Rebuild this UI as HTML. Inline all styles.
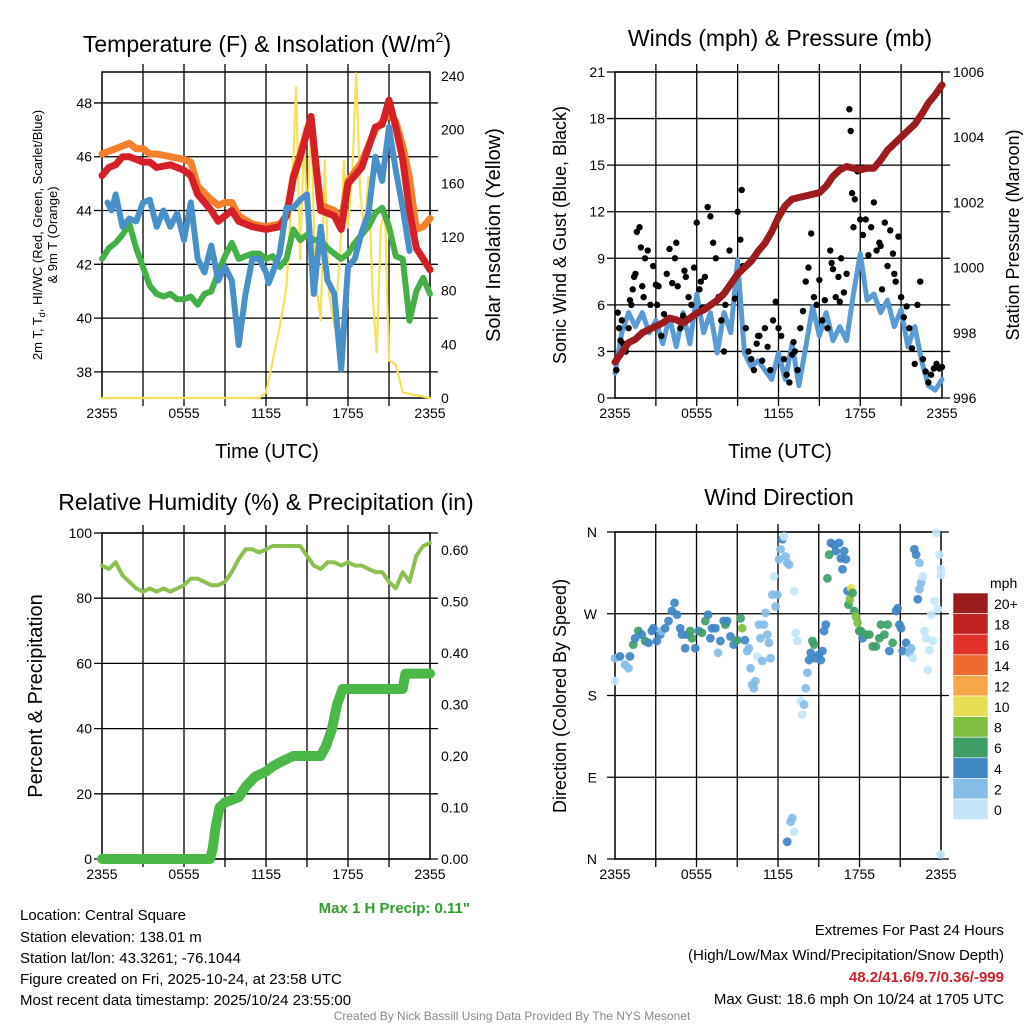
<!DOCTYPE html>
<html><head><meta charset="utf-8">
<style>
html,body{margin:0;padding:0;background:#fff;}
body{width:1024px;height:1024px;overflow:hidden;font-family:"Liberation Sans",sans-serif;}
svg text{font-family:"Liberation Sans",sans-serif;fill:#000;}
</style></head>
<body>
<svg id="c" width="1024" height="1024" viewBox="0 0 1024 1024" xmlns="http://www.w3.org/2000/svg">
<g id="static">
<text x="267" y="52" font-size="23" text-anchor="middle">Temperature (F) &amp; Insolation (W/m<tspan font-size="14" dy="-10">2</tspan><tspan dy="10">)</tspan></text>
<text x="780" y="46" font-size="23" text-anchor="middle">Winds (mph) &amp; Pressure (mb)</text>
<text x="266" y="510" font-size="23" text-anchor="middle">Relative Humidity (%) &amp; Precipitation (in)</text>
<text x="779" y="505" font-size="23" text-anchor="middle">Wind Direction</text>
<text x="267" y="458" font-size="20" text-anchor="middle">Time (UTC)</text>
<text x="780" y="458" font-size="20" text-anchor="middle">Time (UTC)</text>
<text transform="translate(42,235) rotate(-90)" font-size="13" text-anchor="middle">2m T, T<tspan font-size="9" dy="3">d</tspan><tspan dy="-3">, HI/WC (Red, Green, Scarlet/Blue)</tspan></text>
<text transform="translate(57,235) rotate(-90)" font-size="13" text-anchor="middle">&amp; 9m T (Orange)</text>
<text transform="translate(500,235) rotate(-90)" font-size="20" text-anchor="middle">Solar Insolation (Yellow)</text>
<text transform="translate(566,235) rotate(-90)" font-size="18" text-anchor="middle">Sonic Wind &amp; Gust (Blue, Black)</text>
<text transform="translate(1019,235) rotate(-90)" font-size="18" text-anchor="middle">Station Pressure (Maroon)</text>
<text transform="translate(42,696) rotate(-90)" font-size="20" text-anchor="middle">Percent &amp; Precipitation</text>
<text transform="translate(566,696) rotate(-90)" font-size="18" text-anchor="middle">Direction (Colored By Speed)</text>
<text x="470" y="913" font-size="15" font-weight="bold" style="fill:#2e9e2e" text-anchor="end">Max 1 H Precip: 0.11"</text>
<g font-size="15">
<text x="20" y="920">Location: Central Square</text>
<text x="20" y="942">Station elevation: 138.01 m</text>
<text x="20" y="963">Station lat/lon: 43.3261; -76.1044</text>
<text x="20" y="984">Figure created on Fri, 2025-10-24, at 23:58 UTC</text>
<text x="20" y="1005">Most recent data timestamp: 2025/10/24 23:55:00</text>
</g>
<g font-size="15" text-anchor="end">
<text x="1004" y="935">Extremes For Past 24 Hours</text>
<text x="1004" y="960">(High/Low/Max Wind/Precipitation/Snow Depth)</text>
<text x="1004" y="982" font-weight="bold" style="fill:#cc2229">48.2/41.6/9.7/0.36/-999</text>
<text x="1004" y="1004">Max Gust: 18.6 mph On 10/24 at 1705 UTC</text>
</g>
<text x="512" y="1020" font-size="12" text-anchor="middle" style="fill:#888">Created By Nick Bassill Using Data Provided By The NYS Mesonet</text>
</g>
</svg>
<script>
// ---------- DATA ----------
const xTickLabels = ["2355","0555","1155","1755","2355"];
const tempTicks = [38,40,42,44,46,48];
const solarTicks = [0,40,80,120,160,200,240];
const windTicks = [0,3,6,9,12,15,18,21];
const presTicks = [996,998,1000,1002,1004,1006];
const rhTicks = [0,20,40,60,80,100];
const precipTicks = [0.00,0.10,0.20,0.30,0.40,0.50,0.60];
const dirTicks = ["N","E","S","W","N"];
const dirTickDeg = [0,90,180,270,360];
const speedBins = ["0","2","4","6","8","10","12","14","16","18","20+"];

const halfHours = [0,0.5,1,1.5,2,2.5,3,3.5,4,4.5,5,5.5,6,6.5,7,7.5,8,8.5,9,9.5,10,10.5,11,11.5,12,12.5,13,13.5,14,14.5,15,15.5,16,16.5,17,17.5,18,18.5,19,19.5,20,20.5,21,21.5,22,22.5,23,23.5,24];

const redHours = [0,0.5,1,1.5,2,2.5,3,3.5,4,5,6,6.5,7,8,8.5,9,9.5,10,11,12,13,13.5,14,14.5,15,15.3,15.6,16,17,17.5,18,19,20,20.5,21,21.5,22,22.5,23,23.5,24];
const redTemp =  [45.3,45.6,45.7,46.0,46.0,45.9,45.8,45.8,45.6,45.7,45.5,45.3,44.6,44.0,43.6,43.8,44.0,43.6,43.4,43.3,43.4,43.8,45.2,46.0,46.9,47.5,45.9,44.0,43.8,43.3,45.0,45.6,47.1,47.2,48.1,47.1,45.9,44.0,42.6,42.2,41.8];
const orangeTemp=[46.1,46.2,46.3,46.4,46.5,46.3,46.3,46.1,46.1,46.0,45.9,45.8,44.9,44.4,44.2,44.3,44.3,43.8,43.5,43.4,43.5,43.8,45.3,46.1,47.0,47.4,46.0,44.2,44.0,43.6,45.1,45.8,47.0,47.3,47.6,47.3,46.4,45.2,43.3,43.4,43.7];

const blueHours = [0.4,0.7,1,1.5,2,2.5,3,3.5,4,4.5,5,5.5,6,6.5,7,7.5,8,8.5,9,9.5,10,10.5,11,11.5,12,12.2,13,13.5,14,14.5,15,15.5,16,16.5,17,17.5,18,18.5,19,19.5,20,20.5,21,21.5,22,22.5];
const blueTemp = [44.3,44.0,44.6,43.4,43.7,43.6,44.3,44.4,43.4,44.0,43.4,43.9,42.9,44.3,42.2,41.7,42.7,41.4,41.9,41.4,39.0,40.9,42.2,42.2,41.7,41.3,42.4,44.1,44.1,44.4,44.6,40.9,43.4,41.4,40.9,38.1,41.9,42.2,43.2,43.9,46.0,45.1,47.1,45.5,44.1,42.5];

const greenTemp = [42.2,42.6,42.8,43.1,43.5,42.6,41.9,41.2,40.9,40.8,40.9,40.7,40.7,40.8,40.5,40.9,41.0,41.7,42.3,42.8,42.2,42.3,42.4,42.4,42.2,42.3,41.9,42.2,43.3,42.9,43.1,42.9,42.9,42.6,42.4,42.2,42.4,42.8,43.1,43.4,43.9,44.1,43.4,42.3,42.2,39.9,41.0,41.5,40.9];

const solarHours = [0,11.5,12,12.5,13,13.5,14,14.2,14.5,14.8,15,15.3,15.6,16,16.3,16.6,17,17.4,17.7,18,18.3,18.6,18.9,19.2,19.5,19.8,20.1,20.4,20.7,21,21.5,22,24];
const solarVals = [0,0,4,28,53,83,177,232,103,202,127,209,90,58,177,78,53,103,177,127,165,242,153,123,165,78,34,127,140,28,25,4,0];

const pressure = [997.1,997.4,997.7,997.8,998.0,998.1,998.2,998.3,998.45,998.4,998.3,998.45,998.6,998.7,998.85,999.0,999.2,999.5,999.8,1000.0,1000.2,1000.5,1000.75,1001.1,1001.55,1001.9,1002.1,1002.15,1002.2,1002.25,1002.3,1002.5,1002.8,1003.0,1003.1,1003.05,1003.0,1003.05,1003.05,1003.3,1003.6,1003.8,1004.0,1004.2,1004.4,1004.7,1005.05,1005.3,1005.6];
const sonicWind = [1.6,4.2,5.5,4.6,5.5,4.2,5.0,3.5,5.2,3.3,5.5,3.5,6.7,4.2,5.5,2.9,5.5,4.2,8.9,2.9,2.0,2.4,1.8,1.2,2.9,1.2,3.5,0.8,3.3,5.9,4.0,5.5,3.7,4.6,3.7,6.7,9.3,6.3,6.7,5.5,6.3,4.6,5.7,3.3,4.6,2.4,0.8,0.5,1.2];

const gustHours = [0.1,0.2,0.3,0.4,0.5,0.6,0.8,1.0,1.1,1.2,1.4,1.5,1.6,1.8,1.9,2.0,2.2,2.4,2.6,2.8,3.0,3.2,3.4,3.6,3.8,4.0,4.2,4.4,4.6,4.8,5.0,5.2,5.4,5.6,5.8,6.0,6.2,6.4,6.6,6.8,7.0,7.2,7.4,7.6,7.8,8.0,8.2,8.4,8.6,8.8,9.0,9.2,9.3,9.4,9.6,9.8,10.0,10.2,10.4,10.6,10.8,11.0,11.2,11.4,11.6,11.8,12.0,12.2,12.4,12.6,12.8,13.0,13.2,13.4,13.6,13.8,14.0,14.2,14.4,14.6,14.8,15.0,15.2,15.4,15.6,15.8,16.0,16.2,16.4,16.6,16.8,17.0,17.2,17.3,17.4,17.5,17.6,17.8,18.0,18.2,18.4,18.6,18.8,19.0,19.2,19.4,19.6,19.8,20.0,20.2,20.4,20.6,20.8,21.0,21.2,21.4,21.6,21.8,22.0,22.2,22.4,22.6,22.8,23.0,23.2,23.4,23.6,23.8,24.0,1.3,2.1,3.1,4.5,5.1,6.3,8.1,10.5,13.1,15.9,16.5,19.5,20.5];
const gustVals = [1.8,5.5,4.5,3.7,5.0,3.5,3.0,4.5,6.3,6.0,7.8,8.0,10.7,11.0,9.7,7.2,9.0,9.5,6.0,8.5,7.3,7.2,4.0,5.4,8.0,9.6,7.4,9.0,7.2,4.5,5.3,7.8,6.5,6.0,8.4,11.3,7.0,5.8,7.8,12.3,11.7,10.0,9.0,6.5,5.0,3.0,7.0,9.5,7.5,6.4,12.0,10.2,13.4,8.5,4.5,3.0,2.5,1.8,3.5,4.0,2.4,4.5,3.3,1.8,5.0,6.2,4.5,4.0,2.5,1.5,1.0,2.8,3.0,1.8,4.5,5.6,7.5,8.4,10.6,6.5,6.0,7.6,5.0,6.3,4.5,9.5,8.3,6.5,7.8,9.0,6.8,8.0,18.6,17.2,13.2,11.0,12.8,14.6,11.5,10.5,11.5,9.2,11.0,12.6,9.5,10.0,7.0,11.3,8.5,10.8,9.3,7.5,10.4,6.5,5.2,5.9,4.5,3.2,2.2,6.0,7.5,2.5,1.7,1.0,1.5,1.9,2.2,1.9,2.0,7.0,6.5,6.0,10.0,8.2,7.5,6.0,4.0,3.6,8.7,6.2,9.8,8.0];

const rhVals = [90,89,91,87,85,83,82,83,82,83,82,83,84,86,86,85,84,84,85,88,92,95,95,94,95,96,96,96,96,96,93,90,89,91,91,90,91,90,90,89,88,88,85,83,88,85,93,96,97];
const precipHours = [0,7.9,8.1,8.3,8.6,9.0,10.0,10.5,11.2,12.0,12.5,13.2,14.0,16.0,16.4,16.8,17.2,17.6,22.0,22.2,24];
const precipVals = [0,0,0.02,0.06,0.10,0.11,0.12,0.14,0.16,0.17,0.18,0.19,0.20,0.20,0.22,0.25,0.30,0.33,0.33,0.36,0.36];

const dirHours = [
0,0,0.37,0.74,0.99,1.1,1.35,1.48,1.72,1.97,
2.22,2.46,2.71,2.83,3.08,3.33,3.45,3.69,3.94,4.19,
4.38,4.56,4.8,4.93,5.17,5.3,5.54,5.67,5.91,6.16,
6.4,6.65,6.85,7.02,7.14,7.39,7.59,7.76,8.0,8.13,
8.25,8.5,8.74,8.99,9.24,9.36,9.56,9.73,9.85,9.98,
10.1,10.22,10.34,10.47,10.59,10.71,10.84,10.96,11.08,11.21,
11.33,11.45,11.58,11.7,11.82,11.95,12.07,12.19,12.32,12.44,
12.56,12.68,12.81,13.18,13.3,13.42,13.67,13.79,13.92,14.04,
14.16,14.29,14.41,14.53,14.66,14.78,15.02,15.15,15.27,15.39,
15.52,15.64,15.76,15.89,16.13,16.26,16.5,16.63,16.75,16.87,
17.0,17.12,17.19,17.29,17.39,17.49,17.61,17.73,17.86,17.98,
18.1,18.23,18.47,18.72,18.97,19.21,19.46,19.58,19.83,20.07,
20.2,20.44,20.69,20.81,20.94,21.06,21.18,21.43,21.67,21.8,
21.92,22.04,22.17,22.41,22.29,22.41,22.54,22.66,22.78,22.91,
23.03,23.15,23.28,23.4,23.52,23.65,23.77,23.89,24,24,
23.97,12.68,12.93,13.05,13.18];
const dirDeg = [
196,221,223,214,210,223,236,243,251,247,
240,238,251,254,240,247,251,254,262,273,
282,269,254,247,232,247,251,243,232,251,
249,262,269,243,254,254,227,240,262,258,
262,245,236,241,265,254,241,229,232,210,
192,188,196,223,258,243,218,258,271,247,
238,221,291,311,278,291,330,341,352,355,
333,326,324,295,249,240,174,159,170,188,
205,219,227,240,236,221,225,219,229,251,
258,309,335,348,346,339,348,331,319,339,
330,295,280,286,298,293,273,267,260,251,
251,243,247,247,234,234,243,258,247,258,
229,238,273,276,258,254,229,238,227,232,
221,341,335,326,286,297,304,311,251,243,
208,230,269,240,284,359,275,335,319,313,
5,19,41,45,30];
const dirSpeed = [
0,2,4,2,2,4,6,4,6,4,
6,4,4,4,4,4,2,4,4,4,
4,4,4,4,4,4,6,6,4,4,
6,6,4,4,4,4,2,4,4,6,
4,4,4,6,6,8,4,2,2,2,
2,2,2,0,2,2,2,2,2,2,
2,2,2,0,2,2,2,2,4,0,
2,2,2,0,0,0,0,0,2,2,
2,4,4,6,6,4,4,4,4,4,
4,6,6,4,4,4,4,4,4,4,
4,4,6,8,10,6,6,8,8,6,
6,4,6,6,6,6,6,6,6,6,
4,6,4,4,4,4,4,4,2,2,
0,4,4,2,4,2,2,0,0,0,
0,0,0,0,0,0,0,0,0,0,
0,4,2,2,0];

// ---------- RENDER ----------
const svg = document.getElementById('c');
const NS = 'http://www.w3.org/2000/svg';
function mk(tag, attrs, parent){
  const e = document.createElementNS(NS, tag);
  for (const k in attrs) e.setAttribute(k, attrs[k]);
  (parent||svg).appendChild(e);
  return e;
}
function panel(x0,x1,y0,y1){ return {x0,x1,y0,y1, xs:h=>x0+(x1-x0)*h/24}; }
function lin(d0,d1,p0,p1){ return v=>p0+(v-d0)*(p1-p0)/(d1-d0); }
function pathD(xs, ys){ return xs.map((x,i)=>(i?'L':'M')+x.toFixed(1)+','+ys[i].toFixed(1)).join(''); }

function frame(p, name, hLines){
  const g = mk('g', {});
  
  
  for (let i=1;i<8;i++){
    const x = p.x0+(p.x1-p.x0)*i/8;
    mk('line',{x1:x,x2:x,y1:p.y0-8,y2:p.y1+8,stroke:'#000','stroke-width':1.3},g);
  }
  hLines.forEach(y=>mk('line',{x1:p.x0-8,x2:p.x1+8,y1:y,y2:y,stroke:'#000','stroke-width':1.3},g));
  mk('rect',{x:p.x0,y:p.y0,width:p.x1-p.x0,height:p.y1-p.y0,fill:'none',stroke:'#000','stroke-width':1.5},g);
  xTickLabels.forEach((t,i)=>{
    const x = p.x0+(p.x1-p.x0)*i/4;
    const tx = mk('text',{x:x,y:p.y1+20,'font-size':14,'text-anchor':'middle'});
    
    
    tx.textContent = t;
  });
}
function yLabels(vals, ys, x, anchor, name, fmt){
  vals.forEach((v,i)=>{
    const t = mk('text',{x:x,y:ys(v)+5,'font-size':14,'text-anchor':anchor});
    
    
    t.textContent = fmt ? fmt(v) : v;
  });
}
function line(xs, ys, color, w, name){
  const e = mk('path',{d:pathD(xs,ys),fill:'none',stroke:color,'stroke-width':w,'stroke-linejoin':'round','stroke-linecap':'round'});
  
  
  return e;
}

// Panel 1
const P1 = panel(102,430,72,398);
const yT = lin(37.03,49.15,398,72);
const yS = lin(0,243,398,72);
frame(P1,'temp',tempTicks.map(yT));
yLabels(tempTicks,yT,92,'end','temp-y-tick-label');
yLabels(solarTicks,yS,441,'start','solar-y-tick-label');
line(solarHours.map(P1.xs), solarVals.map(yS), '#f7e05a', 2.2, 'solar-insolation-line');
line(halfHours.map(P1.xs), greenTemp.map(yT), '#45b048', 6, 'dewpoint-line');
line(redHours.map(P1.xs), orangeTemp.map(yT), '#f47f2c', 7, 'temp-9m-line');
line(redHours.map(P1.xs), redTemp.map(yT), '#d62027', 7, 'temp-2m-line');
line(blueHours.map(P1.xs), blueTemp.map(yT), '#4a90c8', 6, 'heat-index-windchill-line');

// Panel 2
const P2 = panel(615,942,72,398);
const yW = lin(0,21,398,72);
const yP = lin(996,1006,398,72);
frame(P2,'wind',windTicks.map(yW));
yLabels(windTicks,yW,605,'end','wind-y-tick-label');
yLabels(presTicks,yP,953,'start','pressure-y-tick-label');
line(halfHours.map(P2.xs), sonicWind.map(yW), '#5a9bd3', 5, 'sonic-wind-line');
gustHours.forEach((h,i)=>{
  const c = mk('circle',{cx:P2.xs(h),cy:yW(gustVals[i]),r:3.2,fill:'#000'});
  
  
});
line(halfHours.map(P2.xs), pressure.map(yP), '#9b1b1e', 7, 'pressure-line');

// Panel 3
const P3 = panel(102,430,533,859);
const yR = lin(0,100,859,533);
const yPr = lin(0,0.6,859,550);
frame(P3,'rh',rhTicks.map(yR));
yLabels(rhTicks,yR,92,'end','rh-y-tick-label');
yLabels(precipTicks,yPr,441,'start','precip-y-tick-label',v=>v.toFixed(2));
line(halfHours.map(P3.xs), rhVals.map(yR), '#8cc152', 4, 'rh-line');
line(precipHours.map(P3.xs), precipVals.map(yPr), '#4cb848', 10, 'precip-line');

// Panel 4
const P4 = panel(615,941,532,859);
const yD = lin(0,360,859,532);
frame(P4,'direction',dirTickDeg.map(yD));
dirTicks.forEach((t,i)=>{
  const tx = mk('text',{x:597,y:yD(dirTickDeg[i])+5,'font-size':14,'text-anchor':'end'});
  
  
  tx.textContent = t;
});
const binColors = ['#c2e6f8','#85bde6','#3f86c4','#3f9e66','#7fbf42','#e6de55','#f7a64a','#ef6a2e','#e0322a','#c0201f','#9b1c1c'];
dirHours.forEach((h,i)=>{
  const b = Math.max(0, Math.min(10, Math.floor((dirSpeed[i]||0)/2)));
  const c = mk('circle',{cx:P4.xs(h),cy:yD(dirDeg[i]),r:4.4,fill:binColors[b],'fill-opacity':0.92});
  
  
});
// colorbar
const cb = mk('g',{});


const cbTop = 593, cbH = 20.6;
const mph = mk('text',{x:990,y:588,'font-size':14},cb);
mph.textContent = 'mph';
speedBins.forEach((lab,i)=>{
  const k = speedBins.length-1-i;
  const r = mk('rect',{x:953,y:cbTop+i*cbH,width:35,height:cbH,fill:binColors[k],stroke:'#fff','stroke-width':0.6},cb);
  
  
  const t = mk('text',{x:994,y:cbTop+i*cbH+16,'font-size':14},cb);
  
  
  t.textContent = speedBins[k];
});
</script>
</body></html>
